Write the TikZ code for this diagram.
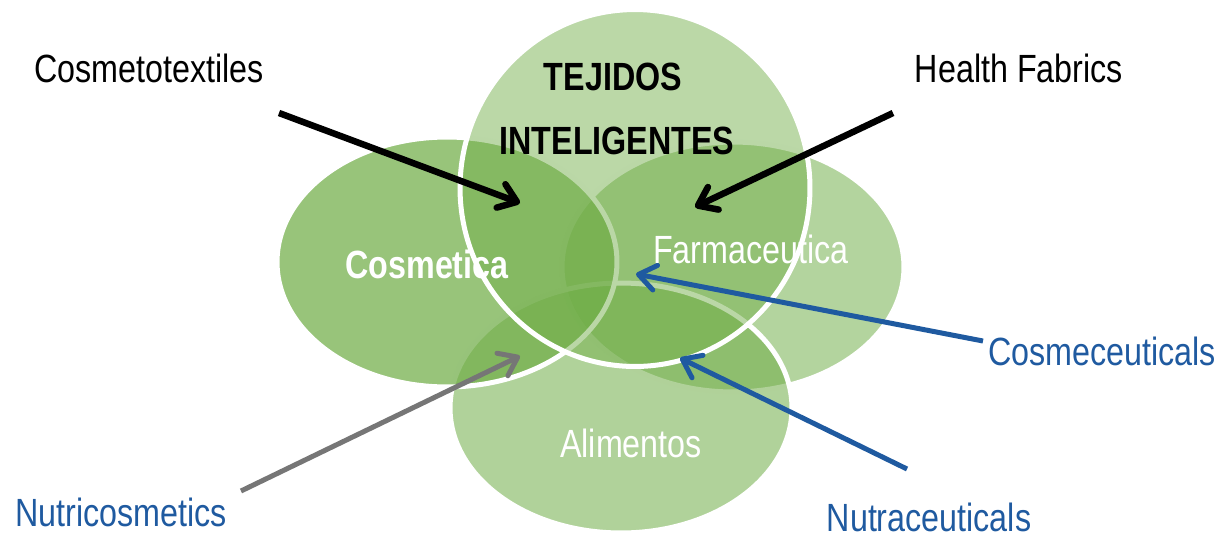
\documentclass[tikz,border=0pt]{standalone}
\usepackage{fontspec}
\setmainfont{Liberation Sans}[FakeStretch=0.82]
\usetikzlibrary{shapes.geometric,arrows.meta}

\definecolor{leaf}{RGB}{112,173,71}
\definecolor{inkblue}{RGB}{31,90,160}
\definecolor{inkgray}{RGB}{118,118,118}

\tikzset{
    venn/.style={ellipse, draw=white, line width=0.1cm, fill=leaf, inner sep=0pt},
    lbl/.style={anchor=base, inner sep=0pt, font=\fontsize{22.4}{27}\selectfont},
    pointer/.style={line width=#1, -{Straight Barb[length=0.34cm,width=0.5cm,round]}}
}

\begin{document}
\begin{tikzpicture}[x=0.02cm, y=-0.02cm]
\useasboundingbox (0,0) rectangle (1221,538);

\foreach \name/\x/\y/\w/\h/\op in {farmaceutica/733/267/6.84/5.0/0.53, alimentos/621/408/6.84/5.0/0.55, cosmetica/447/262/6.8/5.0/0.72, tejidos/635/188/7.0/7.14/0.48}{
    \node[venn, fill opacity=\op, minimum width=\w cm, minimum height=\h cm] (\name) at (\x,\y) {};
}

\node[lbl] (tejidos label) at (613,90) {\bfseries TEJIDOS};
\node[lbl] (inteligentes label) at (617,154) {\bfseries INTELIGENTES};
\node[lbl, text=white] (cosmetica label) at (427,278) {\bfseries Cosmetica};
\node[lbl, text=white] (farmaceutica label) at (751,263) {Farmaceutica};
\node[lbl, text=white] (alimentos label) at (631,457) {Alimentos};

\node[lbl] (cosmetotextiles) at (149,82) {Cosmetotextiles};
\node[lbl] (health fabrics) at (1019,82) {Health Fabrics};
\node[lbl, text=inkblue] (cosmeceuticals) at (1102,365) {Cosmeceuticals};
\node[lbl, text=inkblue] (nutraceuticals) at (929,531) {Nutraceuticals};
\node[lbl, text=inkblue] (nutricosmetics) at (121,526) {Nutricosmetics};

% arrow ends
\coordinate (cosmetotextiles tail) at (279,113);
\coordinate (cosmetotextiles tip) at (520,203);
\coordinate (health tail) at (893,113);
\coordinate (health tip) at (695,207);
\coordinate (cosmeceuticals tail) at (983,341);
\coordinate (cosmeceuticals tip) at (636,274);
\coordinate (nutraceuticals tail) at (907,469);
\coordinate (nutraceuticals tip) at (680,358);
\coordinate (nutricosmetics tail) at (241,491);
\coordinate (nutricosmetics tip) at (520,356);

\draw[pointer=0.13cm] (cosmetotextiles tail) -- (cosmetotextiles tip);
\draw[pointer=0.13cm] (health tail) -- (health tip);
\draw[pointer=0.1cm, inkblue] (cosmeceuticals tail) -- (cosmeceuticals tip);
\draw[pointer=0.1cm, inkblue] (nutraceuticals tail) -- (nutraceuticals tip);
\draw[pointer=0.1cm, inkgray] (nutricosmetics tail) -- (nutricosmetics tip);

\end{tikzpicture}
\end{document}
